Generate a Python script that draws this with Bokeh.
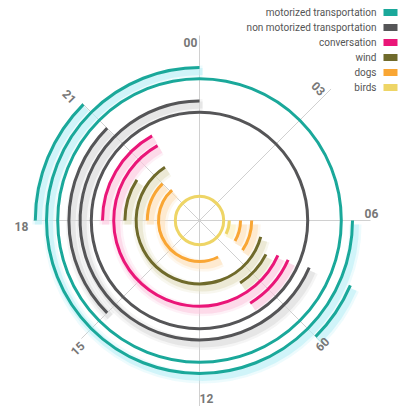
import math
from bokeh.plotting import figure
from bokeh.models import Range1d
from bokeh.core.properties import value
from bokeh.embed import file_html
from bokeh.resources import INLINE

# ---------------- data ----------------
series = ["motorized transportation", "non motorized transportation",
          "conversation", "wind", "dogs", "birds"]
colors = ["#1aa89a", "#555557", "#ea1678", "#6f6a2b", "#f9a634", "#eed566"]
glow_colors = ["#b8eef6", "#d8d8d8", "#fbc6de", "#e2dfc0", "#fde0b8", "#fbf1bb"]

# arcs: hour where each arc starts / ends (clockwise), and its ring
motor_start = [18.0, 7.55, 6.0, 0.0]
motor_end = [21.0, 9.0, 24.0, 24.0]
motor_ring = [11, 11, 10, 9]

nonmotor_start = [15.0, 7.55, 0.0]
nonmotor_end = [21.0, 24.0, 24.0]
nonmotor_ring = [8, 7, 6]

conv_start = [18.0, 7.6, 7.6]
conv_end = [22.05, 9.9, 22.05]
conv_ring = [5, 5, 4]

wind_start = [18.0, 7.8, 7.0]
wind_end = [20.2, 9.8, 21.8]
wind_ring = [3, 3, 2]

dogs_start = [18.0, 6.0, 10.2, 6.0]
dogs_end = [21.0, 8.3, 21.2, 8.0]
dogs_ring = [1, 1, 0, 0]

birds_start = [6.0, 0.0]
birds_end = [7.8, 24.0]
birds_ring = [-1, -1.5]

hour_ticks = ["00", "03", "06", "09", "12", "15", "18", "21"]
legend_labels = series

# ---------------- figure ----------------
W, H = 403, 406
CX, CY = 199, 220  # centre in canvas pixels
p = figure(width=W, height=H, output_backend="svg", toolbar_location=None,
           x_range=Range1d(-CX, W - CX), y_range=Range1d(-(H - CY), CY),
           min_border=0, background_fill_color="white")
p.axis.visible = False
p.grid.visible = False
p.outline_line_color = None


def ring_r(k):
    return 41 + 11.2 * k


def hour_to_angle(h):
    return math.radians(90 - h * 15)


# grid lines
grid_len = {0: 185, 3: 186, 6: 171, 9: 178, 12: 190, 15: 167, 18: 166, 21: 166}
for t in hour_ticks:
    h = int(t)
    a = hour_to_angle(h)
    L = grid_len[h]
    p.line([0, L * math.cos(a)], [0, L * math.sin(a)], line_color="#d0d0d0", line_width=1)

all_arcs = [
    (motor_start, motor_end, motor_ring),
    (nonmotor_start, nonmotor_end, nonmotor_ring),
    (conv_start, conv_end, conv_ring),
    (wind_start, wind_end, wind_ring),
    (dogs_start, dogs_end, dogs_ring),
    (birds_start, birds_end, birds_ring),
]

# glow (soft offset shadow)
for si, (st, en, rg) in enumerate(all_arcs):
    for s, e, k in zip(st, en, rg):
        r = ring_r(k)
        for lw, al in [(12, 0.25), (7, 0.55)]:
            p.arc(x=3, y=-4, radius=r, start_angle=hour_to_angle(e), end_angle=hour_to_angle(s),
                  direction="anticlock", line_color=glow_colors[si], line_width=lw, line_alpha=al)

# main arcs
for si, (st, en, rg) in enumerate(all_arcs):
    for s, e, k in zip(st, en, rg):
        r = ring_r(k)
        if e - s >= 24:
            p.circle(x=0, y=0, radius=r, fill_color=None, line_color=colors[si], line_width=3)
        else:
            p.arc(x=0, y=0, radius=r, start_angle=hour_to_angle(e), end_angle=hour_to_angle(s),
                  direction="anticlock", line_color=colors[si], line_width=3)

# hour labels
lab_pos = {"00": (-9, 178, 0), "03": (119, 132, -45), "06": (172, 7, 0), "09": (123, -124, -135),
           "12": (7, -178, 0), "15": (-122, -128, 45), "18": (-178, -6, 0), "21": (-130, 124, -45)}
for t in hour_ticks:
    x, y, rot = lab_pos[t]
    p.text(x=[x], y=[y], text=[t], angle=math.radians(rot), text_align="center",
           text_baseline="middle", text_font=value("Roboto"), text_font_style="bold",
           text_font_size="12px", text_color="#777777")

# legend
for i, name in enumerate(legend_labels):
    yy = 220 - (12 + 15 * i)
    p.text(x=[177], y=[yy], text=[name], text_align="right", text_baseline="middle",
           text_font=value("Roboto"), text_font_size="10px", text_color="#555555")
    p.rect(x=[191], y=[yy], width=14, height=7, fill_color=colors[i], line_color=None)

open("out.html", "w").write(file_html(p, INLINE))
